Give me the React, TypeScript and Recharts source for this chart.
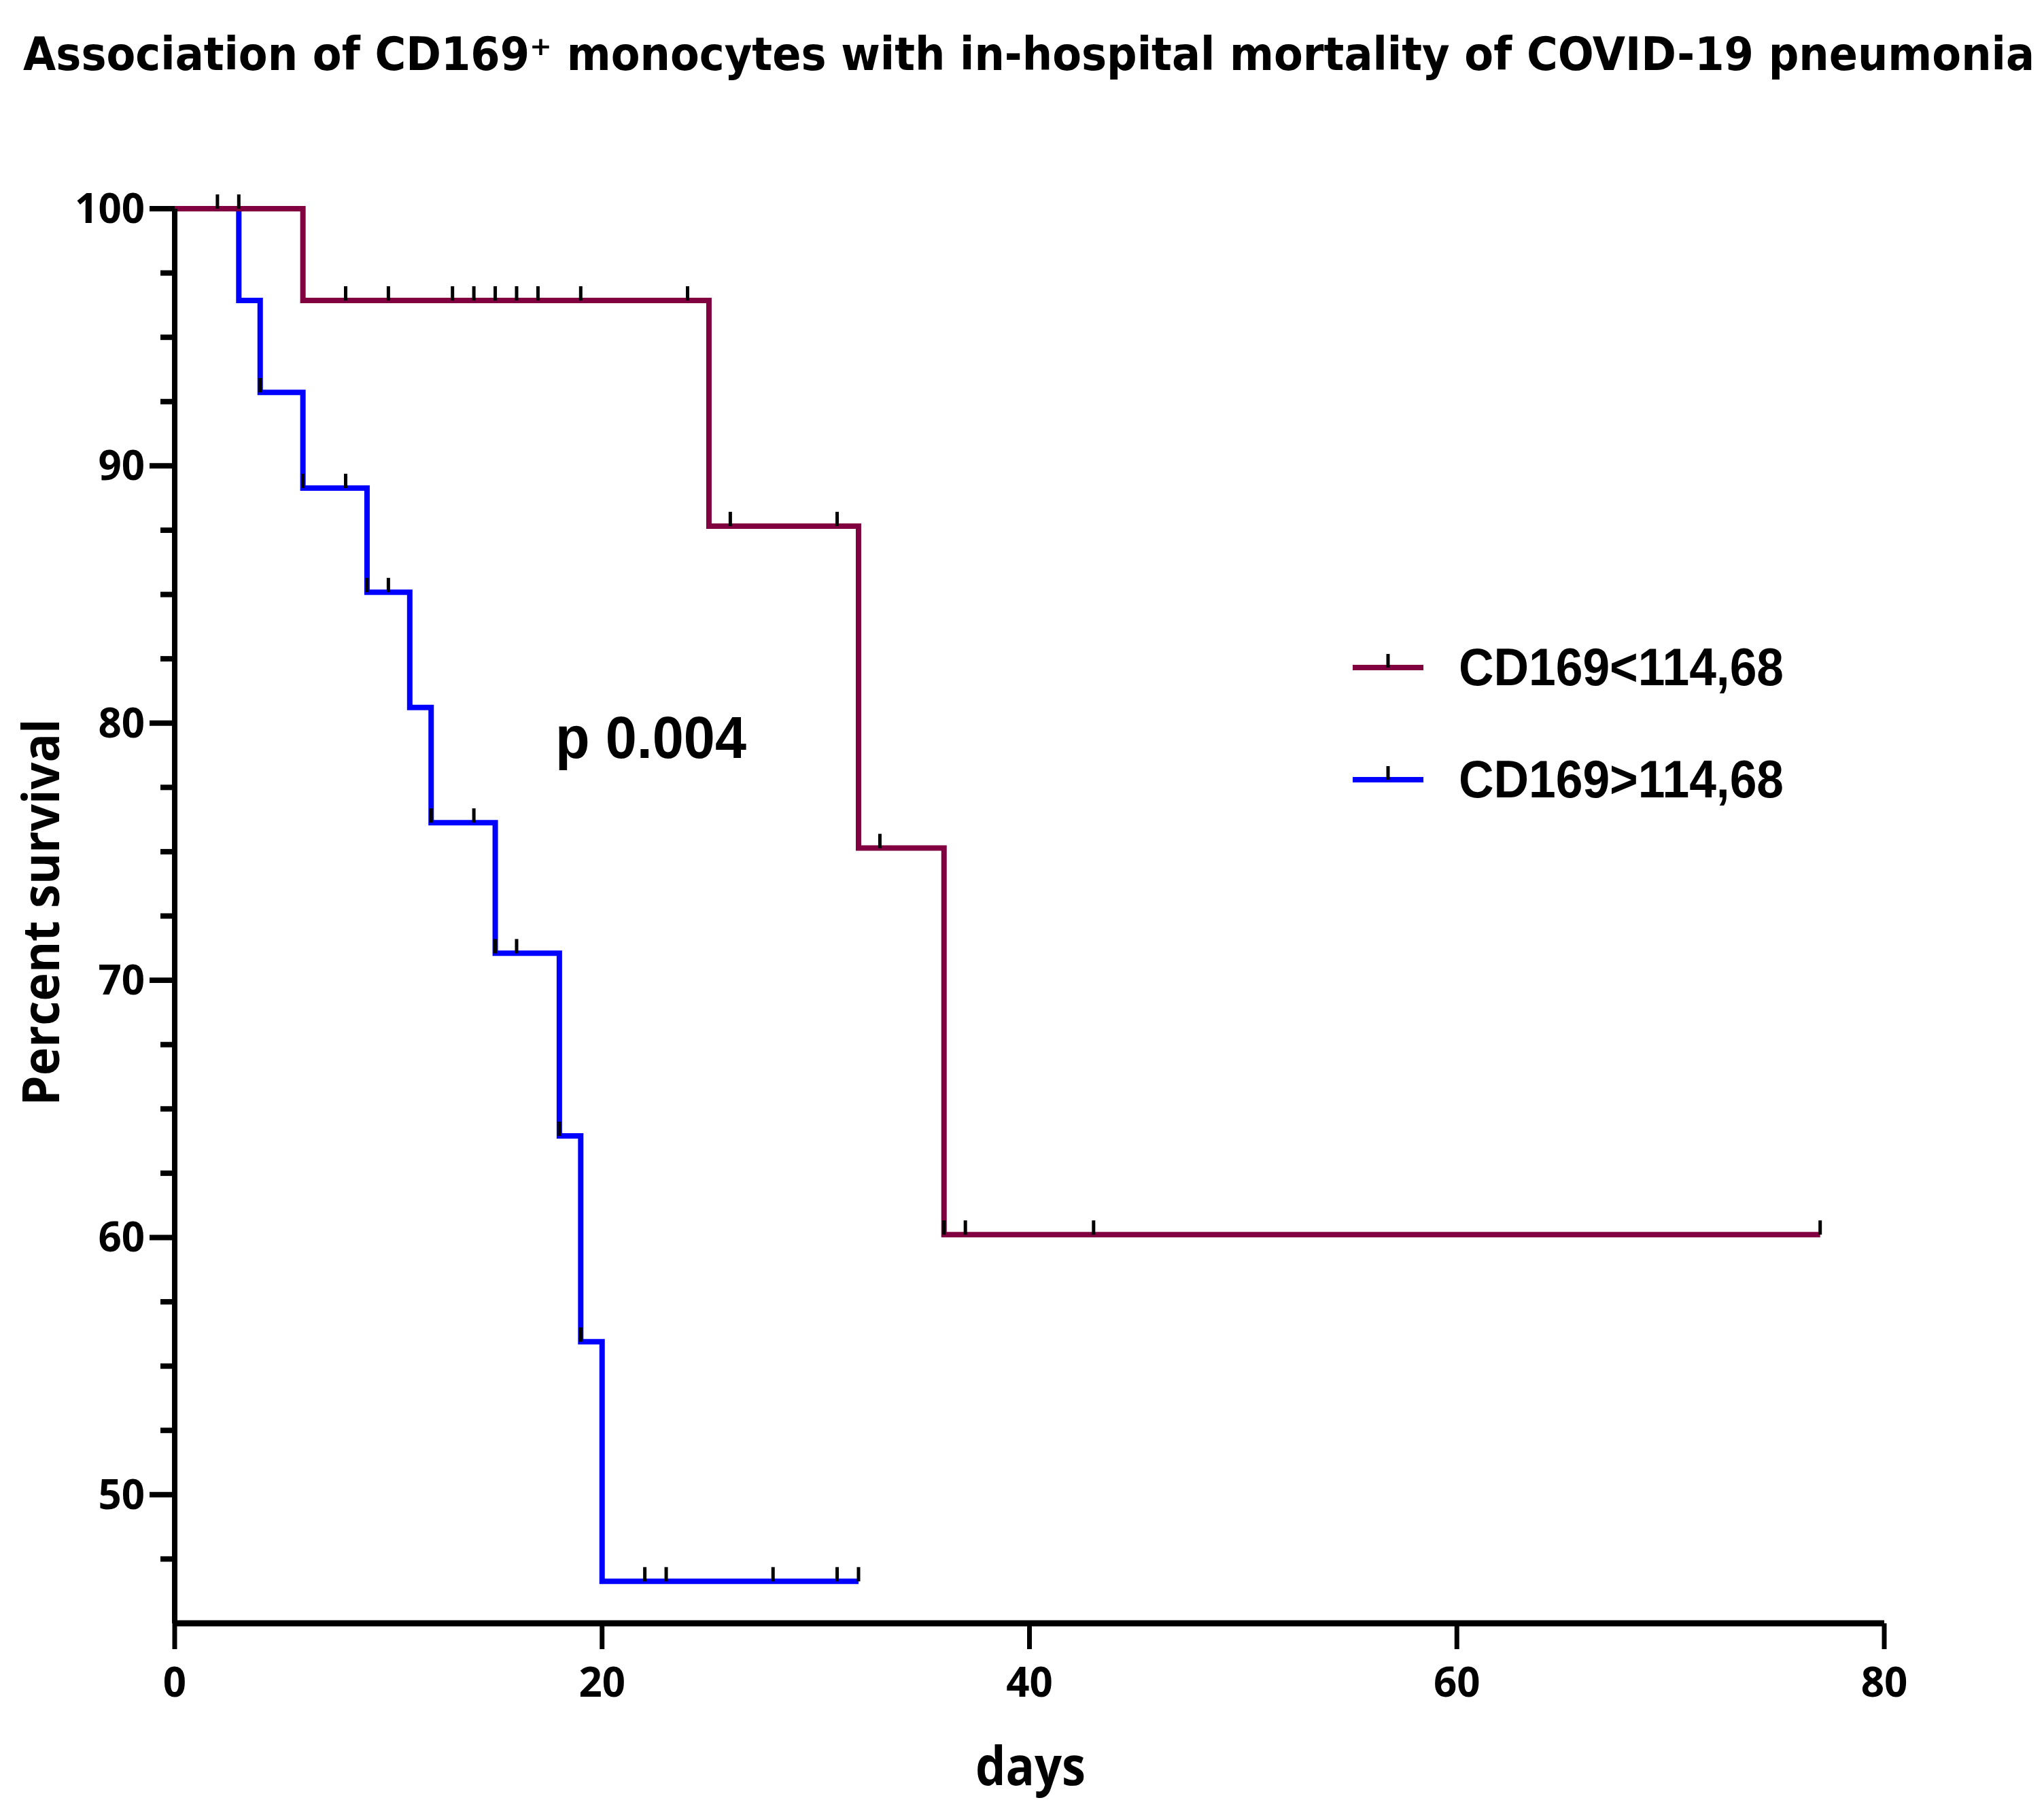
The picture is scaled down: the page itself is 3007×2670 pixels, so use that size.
import { ComposedChart, Line, Scatter, XAxis, YAxis, Legend } from 'recharts'

const W = 3007
const H = 2670

// Kaplan–Meier steps: day of event, % survival after it
const lowDays = [0, 6, 25, 32, 36, 77]
const lowSurv = [100, 96.43, 87.66, 75.14, 60.11, 60.11]
const highDays = [0, 3, 4, 6, 9, 11, 12, 15, 18, 19, 20, 32]
const highSurv = [100, 96.43, 92.86, 89.14, 85.09, 80.61, 76.13, 71.05, 63.95, 55.95, 46.63, 46.63]

// censored subjects (tick marks)
const lowCensDays = [2, 3, 8, 10, 13, 14, 15, 16, 17, 19, 24, 26, 31, 33, 36, 37, 43, 77]
const lowCensSurv = [100, 100, 96.43, 96.43, 96.43, 96.43, 96.43, 96.43, 96.43, 96.43, 96.43, 87.66, 87.66, 75.14, 60.11, 60.11, 60.11, 60.11]
const highCensDays = [4, 6, 8, 9, 10, 12, 14, 15, 16, 18, 19, 22, 23, 28, 31, 32]
const highCensSurv = [92.86, 89.14, 89.14, 85.09, 85.09, 76.13, 76.13, 71.05, 71.05, 63.95, 55.95, 46.63, 46.63, 46.63, 46.63, 46.63]

const xTicks = [0, 20, 40, 60, 80]
const yTicks = [47.5, 50, 52.5, 55, 57.5, 60, 62.5, 65, 67.5, 70, 72.5, 75, 77.5, 80, 82.5, 85, 87.5, 90, 92.5, 95, 97.5, 100]

const seriesNames = ['CD169<114,68', 'CD169>114,68']
const seriesColors = ['#800040', '#0000ff']

const zip = (xs: number[], ys: number[]) => xs.map((x, i) => ({ x, y: ys[i] }))
const lowLine = zip(lowDays, lowSurv)
const highLine = zip(highDays, highSurv)
const lowCens = zip(lowCensDays, lowCensSurv)
const highCens = zip(highCensDays, highCensSurv)

const sans = '"Open Sans", "DejaVu Sans", sans-serif'
const condensed = '"DejaVu Sans Condensed", "DejaVu Sans", sans-serif'
const arial = '"Liberation Sans", Arial, sans-serif'

const chartMargin = { top: 307, right: 235, bottom: 82, left: 57 }
const axisLineStyle = { stroke: '#000', strokeWidth: 8 }
const xAxisLineStyle = { stroke: '#000', strokeWidth: 9 }
const legendWrap = { left: 1960, top: 900, width: 760, height: 320 }

const YTick = (p: any) => {
  const { x, y, payload } = p
  const v = payload.value
  const major = v % 10 === 0
  return (
    <g>
      <line x1={x - (major ? 37 : 21)} x2={x} y1={y} y2={y} stroke="#000" strokeWidth={8} />
      {major && (
        <text x={x - 44} y={y + 21} textAnchor="end" fontFamily={sans} fontWeight={700} fontSize={60} fill="#000">
          {v}
        </text>
      )}
    </g>
  )
}

const XTick = (p: any) => {
  const { x, y, payload } = p
  return (
    <g>
      <line x1={x} x2={x} y1={y} y2={y + 38} stroke="#000" strokeWidth={7} />
      <text x={x} y={y + 108} textAnchor="middle" fontFamily={sans} fontWeight={700} fontSize={60} fill="#000">
        {payload.value}
      </text>
    </g>
  )
}

const CensorTick = (p: any) => {
  const { cx, cy } = p
  return <line x1={cx} x2={cx} y1={cy} y2={cy - 21} stroke="#000" strokeWidth={5} />
}

const LegendBox = () => (
  <svg width={760} height={320}>
    {seriesNames.map((name, i) => {
      const ly = 82 + i * 165
      return (
        <g key={name}>
          <line x1={30} x2={134} y1={ly} y2={ly} stroke={seriesColors[i]} strokeWidth={8} />
          <line x1={82} x2={82} y1={ly} y2={ly - 20} stroke="#000" strokeWidth={5} />
          <text x={186} y={ly + 26} fontFamily={arial} fontWeight={700} fontSize={78} fill="#000"
            textLength={478} lengthAdjust="spacingAndGlyphs">
            {name}
          </text>
        </g>
      )
    })}
  </svg>
)

export default function App() {
  return (
    <div style={{ position: 'absolute', left: 0, top: 0, width: W, height: H, background: '#fff' }}>
      <ComposedChart width={W} height={H} margin={chartMargin}>
        <XAxis type="number" dataKey="x" domain={[0, 80]} ticks={xTicks} height={200}
          tickSize={0} tickMargin={0} tick={XTick} axisLine={xAxisLineStyle} tickLine={false} />
        <YAxis type="number" domain={[45, 100]} ticks={yTicks} width={200}
          tickSize={0} tickMargin={0} tick={YTick} axisLine={axisLineStyle} tickLine={false}
          interval={0} />
        <Line data={highLine} dataKey="y" type="stepAfter" stroke={seriesColors[1]} strokeWidth={8}
          strokeLinejoin="miter" dot={false} activeDot={false} isAnimationActive={false} legendType="none" />
        <Line data={lowLine} dataKey="y" type="stepAfter" stroke={seriesColors[0]} strokeWidth={8}
          strokeLinejoin="miter" dot={false} activeDot={false} isAnimationActive={false} legendType="none" />
        <Scatter data={highCens} dataKey="y" shape={CensorTick} isAnimationActive={false} legendType="none" />
        <Scatter data={lowCens} dataKey="y" shape={CensorTick} isAnimationActive={false} legendType="none" />
        <Legend layout="horizontal" verticalAlign="middle" align="center" wrapperStyle={legendWrap}
          content={LegendBox} />
      </ComposedChart>
      <svg width={W} height={H} style={{ position: 'absolute', left: 0, top: 0, pointerEvents: 'none' }}>
        <text x={34} y={103} fontFamily={condensed} fontWeight={700} fontSize={67} fill="#000"
          textLength={2959} lengthAdjust="spacingAndGlyphs">
          Association of CD169⁺ monocytes with in-hospital mortality of COVID-19 pneumonia
        </text>
        <text transform="translate(87,1342) rotate(-90)" textAnchor="middle" fontFamily={sans} fontWeight={700}
          fontSize={76} fill="#000" textLength={569} lengthAdjust="spacingAndGlyphs">Percent survival</text>
        <text x={1516} y={2626} textAnchor="middle" fontFamily={sans} fontWeight={700} fontSize={78} fill="#000"
          textLength={162} lengthAdjust="spacingAndGlyphs">days</text>
        <text x={817} y={1115} fontFamily={arial} fontWeight={700} fontSize={88} fill="#000"
          textLength={281} lengthAdjust="spacingAndGlyphs">p 0.004</text>
      </svg>
    </div>
  )
}
